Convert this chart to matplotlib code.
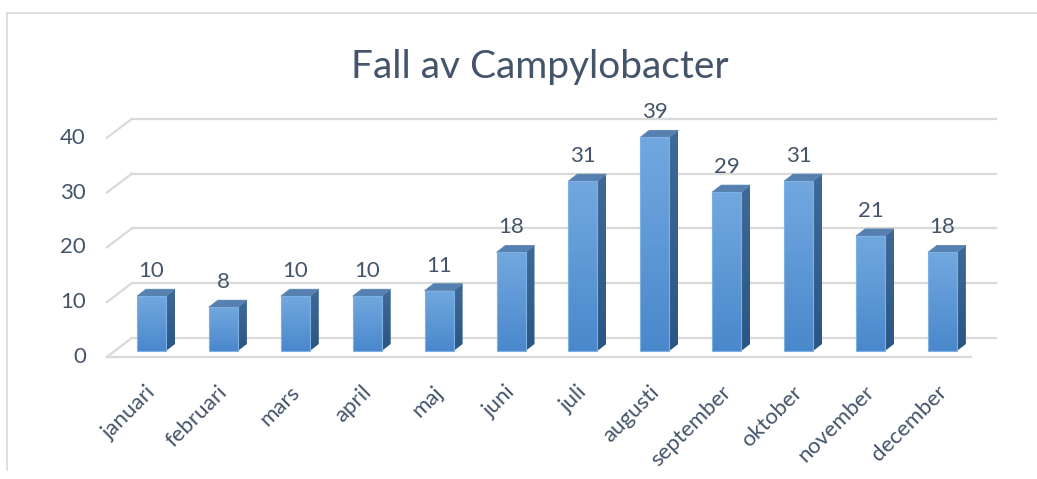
import numpy as np
import matplotlib.pyplot as plt
from matplotlib.patches import Polygon, Rectangle
from matplotlib.colors import LinearSegmentedColormap

# data
months = ['januari', 'februari', 'mars', 'april', 'maj', 'juni', 'juli',
          'augusti', 'september', 'oktober', 'november', 'december']
cases = [10, 8, 10, 10, 11, 18, 31, 39, 29, 31, 21, 18]
yticks = [0, 10, 20, 30, 40]
title = 'Fall av Campylobacter'

plt.rcParams['font.family'] = ['Lato', 'DejaVu Sans']
txt_color = '#44546a'
grid_color = '#d9d9d9'

W, H = 1037, 479
fig = plt.figure(figsize=(W / 100, H / 100), dpi=100)
ax = fig.add_axes([0, 0, 1, 1])

# pixel scale of the data space (bar slot / one case)
px_x, px_y = 71.9, 5.48
x0_px, y0_px = 151.5, 351   # first bar centre, bar base (from top-left)
ax.axis('off')

# 3d offsets in data units
back = (17 / px_x, 13 / px_y)     # bar plane -> back wall
front = (-8 / px_x, -6 / px_y)    # bar plane -> front edge
depth = (9 / px_x, 7 / px_y)      # bar depth
xl, xr = -0.51, 11.51
bw = 29 / px_x

# chart border
fig.add_artist(plt.Line2D([7 / W, 7 / W], [1 - 470 / H, 1 - 13 / H],
                          color=grid_color, lw=1.2))
fig.add_artist(plt.Line2D([7 / W, 1], [1 - 13 / H, 1 - 13 / H],
                          color=grid_color, lw=1.2))

# walls / gridlines
for v in yticks:
    ax.plot([xl + back[0], xr + back[0]], [v + back[1], v + back[1]],
            color=grid_color, lw=1.6, zorder=1)
    ax.plot([xl + front[0], xl + back[0]], [v + front[1], v + back[1]],
            color=grid_color, lw=1.6, zorder=1)
    ax.text(xl + front[0] - 21 / px_x, v + front[1], str(v), ha='right',
            va='center', fontsize=16, color=txt_color)
ax.plot([xl + front[0], xr + front[0]], [front[1], front[1]],
        color=grid_color, lw=1.6, zorder=1)

front_cmap = LinearSegmentedColormap.from_list('f', ['#4a88cc', '#72a8df'])
side_cmap = LinearSegmentedColormap.from_list('s', ['#2b5582', '#3f6a98'])
grad = np.linspace(0, 1, 64).reshape(-1, 1)

for i, v in enumerate(cases):
    l, r = i - bw / 2, i + bw / 2
    # front face with gradient
    rect = Rectangle((l, 0), bw, v, facecolor='none', edgecolor='#7fb0e3',
                     lw=0.8, zorder=4)
    ax.add_patch(rect)
    im = ax.imshow(grad, cmap=front_cmap, aspect='auto', origin='lower',
                   extent=(l, r, 0, v), zorder=3)
    im.set_clip_path(rect)
    # side face
    side = Polygon([(r, 0), (r + depth[0], depth[1]),
                    (r + depth[0], v + depth[1]), (r, v)], closed=True,
                   facecolor='none', edgecolor='none', zorder=3)
    ax.add_patch(side)
    im2 = ax.imshow(grad, cmap=side_cmap, aspect='auto', origin='lower',
                    extent=(r, r + depth[0], 0, v + depth[1]), zorder=3)
    im2.set_clip_path(side)
    # top face
    top = Polygon([(l, v), (r, v), (r + depth[0], v + depth[1]),
                   (l + depth[0], v + depth[1])], closed=True,
                  facecolor='#5580b0', edgecolor='#5580b0', lw=0.5, zorder=3)
    ax.add_patch(top)
    # value label
    ax.text(i, v + 25 / px_y, str(v), ha='center', va='center',
            fontsize=16, color=txt_color, zorder=5)
    # month label
    ax.text(i + 1 / px_x, -38 / px_y, months[i], rotation=45,
            rotation_mode='anchor', ha='right', va='center',
            fontsize=16, color=txt_color)

ax.set_xlim(-x0_px / px_x, (W - x0_px) / px_x)
ax.set_ylim(-(H - y0_px) / px_y, y0_px / px_y)

ax.text((540 - x0_px) / px_x, (y0_px - 67) / px_y, title, ha='center',
        va='center', fontsize=28, color=txt_color)

fig.savefig('out.png', dpi=100)
